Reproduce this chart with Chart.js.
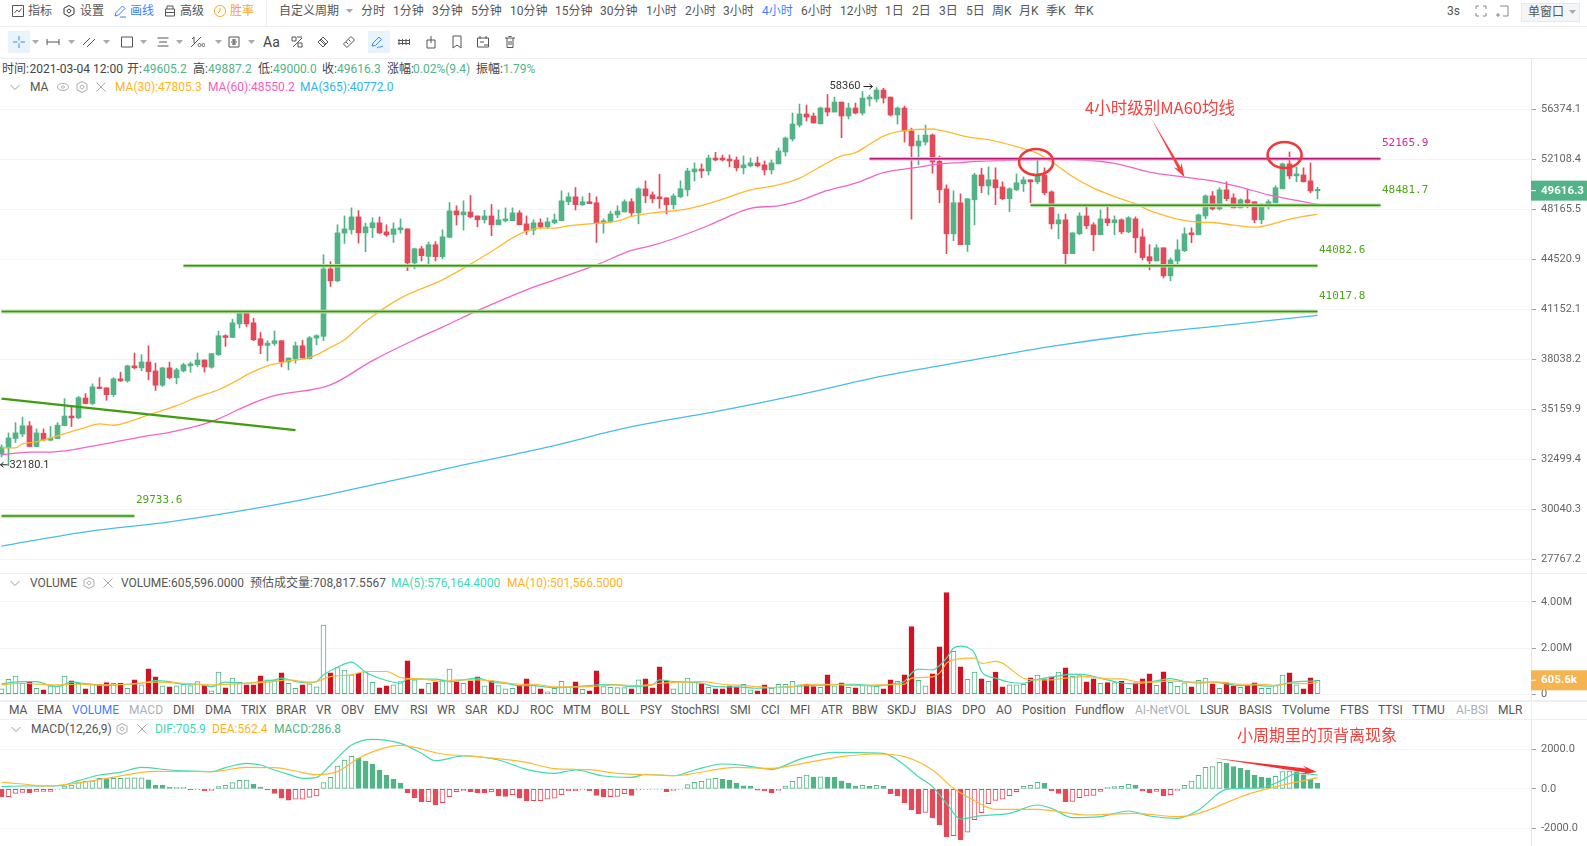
<!DOCTYPE html>
<html>
<head>
<meta charset="utf-8">
<title>BTC 4小时</title>
<script src="https://cdn.jsdelivr.net/npm/chart.js@4/dist/chart.umd.min.js"></script>
<style>
html, body { margin: 0; padding: 0; background: #fff; overflow: hidden; }
#page { position: relative; width: 1587px; height: 846px; overflow: hidden; font: 12px Roboto, "Noto Sans CJK SC", sans-serif; color: #555; }
#page span { position: absolute; white-space: nowrap; line-height: 16px; }
#page svg { position: absolute; }
canvas { position: absolute; }
.rule { position: absolute; background: #eceef1; }
.up { color: #52B486; }
</style>
</head>
<body>
<div id="page"></div>
<canvas id="priceChart" width="1589" height="515" style="left:-2px;top:58px;width:1589px;height:515px"></canvas>
<canvas id="volumeChart" width="1589" height="127" style="left:-2px;top:573px;width:1589px;height:127px"></canvas>
<canvas id="macdChart" width="1589" height="126" style="left:-2px;top:720px;width:1589px;height:126px"></canvas>

<script>
// 4h candles, oldest first
const opens = [
  32790,33100,33590,33830,34270,33170,33870,33500,33590,34280,
  34800,34700,35800,35490,36420,36380,35990,36900,36780,37660,
  37540,37890,37360,36530,37540,36960,37360,37660,37720,38010,
  37580,38330,39490,39380,40230,40930,40300,39300,38890,39010,
  39180,37890,38070,38870,38090,39340,39450,43870,43050,46410,
  46650,47610,46430,46800,47170,46500,46310,46650,46720,44280,
  45280,44740,45570,44720,46100,48060,47760,47980,47680,47390,
  47680,47020,47320,47320,47910,47090,46630,47170,46870,47170,
  47320,48760,49140,48530,48760,48680,47150,47240,47760,47980,
  48760,47910,49760,49290,49140,49060,48530,49140,49680,51100,
  51340,51180,52230,52230,52150,52070,51430,51590,51830,51670,
  51260,51750,52730,53820,55010,55980,55800,55120,56510,56150,
  57040,55800,56510,56060,57310,57310,58130,57490,55890,56510,
  54500,53230,53560,54160,51960,49760,46360,48680,45570,48910,
  50860,49990,50470,49910,48990,49680,50150,50470,50310,50860,
  49520,47090,47390,44930,46360,47680,47020,46290,47460,47170,
  47390,46500,47460,46140,44720,44420,45350,43390,44420,45140,
  46430,46290,47680,49210,48210,49680,49060,48290,48910,48760,
  47390,48450,48680,49760,51750,50780,50860,50390,49605.2];
const highs = [
  33260,33890,34440,34740,34500,34100,34100,34230,34440,35770,
  35330,35890,36050,36610,36970,36380,36970,37290,37700,38430,
  38330,38870,37820,37580,37880,37520,37820,37880,38430,38010,
  38390,39780,39550,40530,40970,41000,40590,39690,39180,39780,
  39180,38130,39100,39200,39440,39550,44860,44370,47020,47680,
  48290,48080,47150,47540,47610,47020,47170,47460,46720,45330,
  45450,45760,45790,46650,48700,48450,48830,49240,47680,48110,
  48550,48130,48290,48290,48080,47680,47390,47460,47540,47830,
  49600,49450,49860,49140,49420,49140,47460,48050,48450,48910,
  48990,49840,50390,49520,50920,49060,49370,50390,51400,51830,
  51750,52480,52700,52480,52480,52320,52400,52230,52320,51990,
  52070,53060,53990,56060,56860,56770,56060,56600,57730,57490,
  57040,56950,56950,57980,57670,58360,58290,57490,56600,56680,
  54750,54160,55010,54240,52400,50070,49600,49370,48990,50990,
  51400,51510,51430,50310,49840,50940,50700,50470,52150,51430,
  49600,47830,47830,46430,47930,48530,47170,48130,48450,47680,
  47460,47630,47610,46720,45570,45570,45350,44630,45930,46800,
  46800,47830,49290,49550,49840,50310,49370,48990,49680,48760,
  48610,48910,49990,51830,52730,51510,51430,51830,49887.2];
const lows = [
  32630,32180,33380,33690,33160,33160,33470,33470,33590,34280,
  34230,34650,35470,35430,36330,35670,35890,36740,36700,37480,
  37380,36840,36230,36450,36900,36610,37300,37280,37620,37290,
  37520,38270,38830,39380,39970,40060,39180,38390,37950,38890,
  37600,37420,37820,38130,38070,38930,39180,42670,42990,45660,
  46340,45690,45070,46090,46360,46170,45730,46410,43750,43870,
  44420,44030,44420,44570,46060,47000,46630,47540,46870,47150,
  46220,47020,47240,47320,47020,46310,46290,46800,46800,47090,
  47320,48530,48130,48450,48610,45730,46410,47170,47540,47980,
  47680,47090,48680,48680,48260,47830,48210,49060,49210,50390,
  50650,50860,51990,51990,51510,51180,50940,51510,51510,50860,
  50940,51750,52400,53650,54840,55360,55190,55100,55800,56150,
  53930,55540,55980,55890,56680,57060,56950,55800,55100,53560,
  47440,51670,53310,51000,48680,44930,45860,45570,45090,47020,
  49450,49290,48530,48910,48000,49630,49550,48680,50150,49290,
  46720,46000,44150,44930,46290,46720,45140,46290,46950,46290,
  46360,46430,45000,44490,43800,44420,43250,43050,44150,45070,
  45710,46290,47460,48130,48130,48830,48290,48290,48290,47170,
  47090,48210,48680,49760,50550,50310,50310,49450,49000];
const closes = [
  33140,33620,33890,34270,33170,33890,33520,33620,34300,34800,
  34700,35820,35490,36440,36340,35990,36900,36780,37660,37540,
  37890,37320,36530,37540,36960,37420,37720,37780,38010,37600,
  38390,39490,39380,40300,40930,40230,39240,38890,39030,39180,
  37890,38130,38870,38130,39360,39490,43870,43050,46430,46720,
  47610,46430,46870,47170,46430,46270,46720,46800,44280,45280,
  44790,45570,44720,46140,48060,47760,47980,47610,47390,47680,
  47020,47390,47460,47910,47020,46580,47170,46870,47240,47390,
  48830,49140,48530,48760,48610,47170,47320,47830,48050,48760,
  47910,49760,49210,48990,48990,48530,49210,49760,51180,51340,
  51180,52230,52070,52070,51990,51430,51670,51830,51590,51260,
  51830,52820,53900,55100,55980,55710,55190,56510,56150,57040,
  55800,56510,56060,57400,57490,58130,57400,55890,56510,54500,
  53230,53650,54160,51910,49680,46360,48680,45570,48990,50860,
  49990,50470,49840,48990,49760,50230,50470,50310,50800,49450,
  47090,47390,44930,46430,47680,46950,46290,47460,47170,47390,
  46500,47540,46070,44650,44420,45350,43390,44490,45210,46360,
  46290,47760,49210,48210,49680,48990,48290,48910,48680,47390,
  48530,48760,49840,51750,50780,50940,50310,49600,49616.3];

// moving averages as [candle index, value]
const ma30 = [[0,33100],[2,33100],[3,33310],[5,33410],[8,33730],[10,33960],[12,34180],[14,34370],[16,34300],[19,34590],[21,34860],[25,35370],[28,35860],[31,36270],[34,36880],[35,37130],[38,37660],[41,37950],[44,38150],[46,38530],[47,38770],[49,39240],[52,40380],[57,41900],[63,43120],[67,44200],[70,45090],[74,46340],[77,46770],[79,46770],[81,46950],[84,47090],[88,47320],[90,47640],[93,47910],[94,47960],[98,48210],[102,48780],[107,49680],[111,50070],[114,50600],[117,51530],[120,52400],[122,52670],[124,53370],[126,54070],[129,54530],[133,54670],[134,54580],[136,54300],[138,53990],[141,53760],[145,53170],[148,52620],[150,51930],[153,50730],[156,49810],[159,49160],[162,48600],[164,48080],[166,47740],[168,47440],[171,47220],[173,47190],[176,47000],[179,46850],[182,47140],[184,47440],[186,47640],[188,47805.3]];
const ma60 = [[0,32740],[4,32880],[7,32880],[14,33260],[21,33740],[24,33920],[30,34500],[36,35530],[39,35930],[47,36550],[53,37970],[59,39240],[63,40030],[68,41080],[75,42450],[79,43120],[85,44150],[90,45160],[93,45520],[96,46000],[101,46970],[105,47890],[107,48260],[111,48450],[114,48830],[118,49630],[122,50210],[126,51040],[130,51400],[134,51750],[137,51860],[141,51990],[145,52070],[151,52130],[159,51800],[164,51080],[169,50690],[173,50390],[177,49890],[181,49290],[185,48860],[188,48550.2]];
const ma365 = [[0,28360],[12,29004],[24,29465],[32,29857],[44,30570],[54,31300],[66,32220],[78,33140],[90,34220],[102,35040],[114,35990],[126,37070],[138,37950],[150,38830],[162,39550],[174,40110],[188,40772]];

// drawn price levels and the trend line
const levelValues = [52165.9, 48481.7, 44082.6, 41017.8, 29733.6];
const levelFrom = [124, 147, 26, 0, 0];
const levelTo = [197, 197, 188, 188, 19];
const trendLine = [[0,35770],[42,34040]];

const priceTicks = [56374.1, 52108.4, 48165.5, 44520.9, 41152.1, 38038.2, 35159.9, 32499.4, 30040.3, 27767.2];

// volume in thousands
const volumes = [
  232,652,783,478,522,261,188,362,362,783,
  580,478,232,435,435,507,478,478,261,623,
  406,1102,754,362,319,362,435,377,551,377,
  145,957,275,696,522,406,406,797,623,594,
  928,478,261,406,449,319,3001,928,1160,1044,
  841,913,986,522,275,362,406,551,1450,623,
  232,478,522,623,1087,536,478,580,754,362,
  580,377,232,261,377,667,406,232,101,261,
  565,333,536,217,145,1015,333,304,290,290,
  232,623,667,275,1189,580,232,551,696,522,
  449,304,232,232,362,304,435,188,145,406,
  261,435,435,565,406,435,333,304,841,362,
  493,304,275,377,377,348,232,623,565,841,
  2929,609,362,884,2059,4408,1856,1189,652,957,
  667,565,957,319,406,406,435,710,826,667,
  754,957,1145,783,812,536,667,478,507,507,
  565,261,493,667,884,391,971,522,348,493,
  319,609,696,449,261,493,362,304,377,493,
  261,261,377,826,928,406,232,710,605.6];
const volMa5 = [[0,450],[3,551],[5,551],[7,377],[8,333],[10,522],[12,464],[15,377],[18,435],[20,478],[22,594],[24,551],[26,435],[28,435],[30,333],[32,522],[35,478],[37,551],[39,623],[40,696],[42,551],[44,493],[45,551],[46,841],[48,1174],[50,1392],[52,957],[54,696],[56,522],[57,478],[58,652],[62,652],[64,551],[66,623],[68,696],[70,522],[72,478],[74,377],[76,377],[78,304],[80,290],[82,333],[84,377],[86,435],[88,406],[90,333],[93,406],[94,623],[96,551],[98,522],[100,478],[102,333],[105,319],[108,261],[110,290],[113,333],[115,377],[118,406],[120,435],[122,435],[125,362],[127,435],[128,478],[129,551],[130,913],[131,1087],[133,1058],[134,1247],[135,1566],[136,2001],[137,2088],[138,2030],[139,1783],[140,986],[141,768],[142,696],[144,522],[146,478],[147,580],[149,696],[151,797],[153,870],[155,841],[157,696],[159,551],[161,464],[163,478],[165,580],[167,681],[169,551],[171,493],[173,522],[175,449],[177,377],[179,406],[181,348],[183,435],[185,551],[188,576.2]];
const volMa10 = [[0,406],[3,478],[7,406],[11,435],[14,406],[18,435],[22,522],[26,478],[30,406],[34,464],[38,522],[41,623],[44,522],[45,551],[47,768],[50,841],[52,986],[55,986],[57,725],[60,667],[63,551],[65,623],[68,623],[71,551],[74,435],[76,435],[79,319],[84,333],[88,406],[91,377],[94,478],[97,522],[100,551],[103,435],[106,377],[110,290],[113,333],[115,435],[118,435],[122,377],[125,406],[129,435],[130,696],[133,754],[134,913],[135,1348],[136,1493],[138,1566],[139,1566],[140,1334],[142,1421],[143,1348],[144,1131],[146,696],[148,623],[150,623],[152,696],[155,768],[158,667],[160,667],[162,551],[164,522],[167,580],[169,536],[171,522],[174,522],[177,435],[180,435],[182,377],[184,478],[186,464],[188,501.6]];
const volumeTicks = [4000, 2000, 0];

const macdBars = [
  -400,-400,-230,-180,-200,-130,-130,-130,-30,140,
  190,310,380,410,530,500,530,530,550,550,
  550,450,190,175,75,75,75,-45,-40,-95,
  -80,110,175,310,430,445,240,90,-60,-230,
  -470,-570,-530,-530,-430,-365,310,580,1155,1460,
  1640,1540,1410,1255,950,700,495,290,-195,-450,
  -650,-650,-820,-700,-400,-145,-110,-145,-195,-210,
  -160,-365,-380,-300,-470,-600,-600,-600,-530,-480,
  -300,-95,-95,-60,-95,-330,-400,-400,-390,-245,
  -330,-60,-30,-30,-30,-145,-80,-30,210,330,
  380,500,530,480,430,290,150,125,-70,-110,
  -195,-80,140,380,580,700,600,610,600,580,
  395,290,125,175,125,175,125,-245,-365,-720,
  -1060,-1260,-1190,-1480,-1815,-2425,-2370,-2590,-2200,-1560,
  -1210,-750,-585,-530,-345,-145,125,175,330,280,
  -95,-230,-650,-635,-450,-365,-330,-130,75,110,
  125,225,190,-110,-195,-130,-345,-300,-80,175,
  395,680,1085,1120,1340,1290,1120,1035,950,700,
  580,550,630,870,900,870,700,480,286.8];
const dif = [[0,108],[3,142],[8,142],[11,412],[14,699],[17,834],[20,1087],[24,952],[27,901],[30,868],[32,1070],[35,1290],[37,1205],[39,952],[41,733],[43,530],[45,581],[47,1205],[50,2218],[53,2505],[57,2302],[60,1796],[62,1425],[66,1661],[71,1458],[75,986],[79,783],[82,952],[86,648],[90,581],[92,733],[94,699],[96,665],[99,952],[103,1256],[106,1188],[110,986],[114,1492],[119,1847],[126,1796],[128,1458],[131,614],[133,108],[135,-736],[137,-1529],[140,-1360],[144,-1242],[148,-820],[150,-989],[153,-1462],[157,-1411],[161,-1124],[164,-1377],[168,-1496],[171,-1074],[175,-27],[180,57],[183,446],[185,783],[188,705.9]];
const dea = [[0,327],[3,243],[6,142],[10,243],[15,530],[22,884],[30,868],[35,1087],[39,1070],[42,901],[45,716],[48,868],[51,1543],[54,1999],[57,2200],[63,1762],[68,1627],[75,1340],[79,1020],[84,969],[88,783],[94,699],[96,665],[105,1087],[110,1036],[115,1323],[120,1627],[125,1762],[129,1627],[133,952],[136,24],[139,-601],[142,-1040],[148,-1040],[155,-1327],[162,-1242],[168,-1411],[171,-1242],[178,-280],[183,192],[188,562.4]];
const macdTicks = [2000, 0, -2000];

const GREEN = '#52B486', RED = '#E24A5A', VOL_RED = '#CF1322';
const slots = Array.from({ length: 219 }, (_, i) => i);   // empty room on the right of the last candle
const pts = list => list.map(p => ({ x: p[0], y: p[1] }));

function lineSet(list, color, width, order, smooth) {
    return {
        type: 'line', data: pts(list), borderColor: color, borderWidth: width, order: order,
        pointRadius: 0, spanGaps: true, cubicInterpolationMode: smooth ? 'monotone' : 'default'
    };
}

function baseOptions(yMin, yMax, yType, tickValues, fmt) {
    return {
        responsive: false, animation: false, events: [],
        layout: { padding: 0, autoPadding: false },
        plugins: { legend: { display: false }, tooltip: { enabled: false } },
        datasets: { bar: { grouped: false } },
        scales: {
            x: { type: 'category', display: false, offset: true, grid: { display: false } },
            y: {
                type: yType, position: 'right', min: yMin, max: yMax,
                // no label padding, the plot has to fill the whole canvas height
                afterFit: s => { s.width = 56; s.paddingTop = 0; s.paddingBottom = 0; },
                afterBuildTicks: s => { s.ticks = tickValues.map(v => ({ value: v })); },
                border: { color: '#E3E6EA' },
                grid: { color: '#F1F3F5', tickColor: '#9AA0A6', tickLength: 5 },
                ticks: { autoSkip: false, padding: 5, color: '#666', font: { family: 'Roboto', size: 11 }, callback: fmt }
            }
        }
    };
}

// texts, ellipses and hand drawn arrows that sit on top of a chart
function at(chart, i, v) {
    return [chart.scales.x.getPixelForValue(i), chart.scales.y.getPixelForValue(v)];
}
function taperArrow(ctx, tail, tip, neckW, headW, headL, color) {
    const dx = tip[0] - tail[0], dy = tip[1] - tail[1], len = Math.hypot(dx, dy);
    const ux = dx / len, uy = dy / len, nx = -uy, ny = ux;
    const bx = tip[0] - ux * headL, by = tip[1] - uy * headL;
    const nk = headL * 0.75;
    const cx = tip[0] - ux * nk, cy = tip[1] - uy * nk;
    ctx.fillStyle = color;
    ctx.beginPath();
    ctx.moveTo(tail[0], tail[1]);
    ctx.lineTo(cx + nx * neckW, cy + ny * neckW);
    ctx.lineTo(bx + nx * headW, by + ny * headW);
    ctx.lineTo(tip[0], tip[1]);
    ctx.lineTo(bx - nx * headW, by - ny * headW);
    ctx.lineTo(cx - nx * neckW, cy - ny * neckW);
    ctx.closePath();
    ctx.fill();
}
function label(ctx, text, x, y, color, font, align) {
    ctx.fillStyle = color;
    ctx.font = font;
    ctx.textAlign = align || 'left';
    ctx.textBaseline = 'middle';
    ctx.fillText(text, x, y);
}
// small arrow next to the highest and lowest price
function pointer(ctx, x0, x1, y) {
    const d = x1 > x0 ? -3 : 3;
    ctx.strokeStyle = '#222';
    ctx.lineWidth = 1;
    ctx.beginPath();
    ctx.moveTo(x0, y);
    ctx.lineTo(x1, y);
    ctx.moveTo(x1 + d, y - 2.5);
    ctx.lineTo(x1, y);
    ctx.lineTo(x1 + d, y + 2.5);
    ctx.stroke();
}
function priceTag(chart, v, text, color) {
    const ctx = chart.ctx, y = chart.scales.y.getPixelForValue(v), x = chart.chartArea.right;
    ctx.save();
    ctx.fillStyle = color;
    ctx.fillRect(x, y - 10, 58, 20);
    ctx.fillStyle = '#fff';
    ctx.fillRect(x, y - 0.5, 5, 1);
    label(ctx, text, x + 10, y, '#fff', 'bold 11.5px Roboto');
    ctx.restore();
}

const priceMarks = {
    id: 'priceMarks',
    afterDatasetsDraw(chart) {
        const ctx = chart.ctx;
        const mono = '11px "DejaVu Sans Mono"';
        ctx.save();
        levelValues.forEach((v, k) => {
            const p = at(chart, levelTo[k], v);
            label(ctx, v.toFixed(1), p[0] + 1.5, p[1] - 15.5, k === 0 ? '#D12C95' : '#4CA516', mono);
        });
        let p = at(chart, 125, 58360);
        label(ctx, '58360', p[0] - 16, p[1] - 1, '#333', '11px Roboto', 'right');
        pointer(ctx, p[0] - 13, p[0] - 4, p[1] - 1);
        p = at(chart, 1, 32180.1);
        label(ctx, '32180.1', p[0] + 1, p[1] - 1, '#333', '11px Roboto');
        pointer(ctx, p[0] - 1, p[0] - 8, p[1] - 1);

        p = at(chart, 165.5, 56510);
        label(ctx, '4小时级别MA60均线', p[0], p[1], '#F5423F', '16.5px "Noto Sans CJK SC"', 'center');
        taperArrow(ctx, at(chart, 164.2, 55640), at(chart, 169, 50680), 1.6, 4.5, 14, '#F5423F');

        ctx.strokeStyle = '#EF3A3A';
        ctx.lineWidth = 2.6;
        [[147.8, 51910], [183.3, 52480]].forEach(c => {
            const q = at(chart, c[0], c[1]);
            ctx.beginPath();
            ctx.ellipse(q[0], q[1], 17, 13, 0, 0, Math.PI * 2);
            ctx.stroke();
        });
        ctx.restore();
        priceTag(chart, 49616.3, '49616.3', GREEN);
    }
};
const volumeMarks = {
    id: 'volumeMarks',
    afterDatasetsDraw(chart) { priceTag(chart, 605.6, '605.6k', '#F5B450'); }
};
const macdMarks = {
    id: 'macdMarks',
    afterDatasetsDraw(chart) {
        const ctx = chart.ctx;
        ctx.save();
        const p = at(chart, 176.5, 2724);
        label(ctx, '小周期里的顶背离现象', p[0], p[1], '#F5423F', '16px "Noto Sans CJK SC"');
        taperArrow(ctx, at(chart, 173.2, 1560), at(chart, 187.9, 850), 2, 4.5, 15, '#F5302F');
        ctx.restore();
    }
};

// price panel
const candleColor = closes.map((c, i) => c >= opens[i] ? GREEN : RED);
const levelSets = [];
levelValues.forEach((v, k) => {
    const seg = [[levelFrom[k], v], [levelTo[k], v]];
    levelSets.push(lineSet(seg, k === 0 ? '#EBB0D6' : '#B5DCA0', 3.6, 2));
    levelSets.push(lineSet(seg, k === 0 ? '#BE1A7E' : '#3B930E', 1.5, 1));
});
new Chart(document.getElementById('priceChart'), {
    type: 'bar',
    data: {
        labels: slots,
        datasets: [
            { data: lows.map((l, i) => [l, highs[i]]), backgroundColor: candleColor, barThickness: 1, order: 6 },
            { data: opens.map((o, i) => [o, closes[i]]), backgroundColor: candleColor, barThickness: 5, minBarLength: 1.5, order: 5 },
            lineSet(ma365, '#49BCEB', 1.3, 3, true),
            lineSet(ma60, '#F264C8', 1.3, 3, true),
            lineSet(ma30, '#FFB92E', 1.3, 3, true),
            ...levelSets,
            lineSet(trendLine, '#3F9E0D', 2.2, 1)
        ]
    },
    options: baseOptions(27183, 61135, 'logarithmic', priceTicks, v => v.toFixed(1)),
    plugins: [priceMarks]
});

// volume panel: up bars are hollow, down bars filled
new Chart(document.getElementById('volumeChart'), {
    type: 'bar',
    data: {
        labels: slots,
        datasets: [
            {
                data: volumes, barThickness: 5, borderWidth: 1, borderSkipped: false, order: 5,
                backgroundColor: candleColor.map(c => c === GREEN ? '#fff' : VOL_RED),
                borderColor: candleColor.map(c => c === GREEN ? GREEN : VOL_RED)
            },
            lineSet(volMa5, '#41D9B0', 1.2, 2, true),
            lineSet(volMa10, '#FFB92E', 1.2, 1, true)
        ]
    },
    options: baseOptions(-248, 5252, 'linear', volumeTicks, v => v === 0 ? '0' : (v / 1000).toFixed(2) + 'M'),
    plugins: [volumeMarks]
});

// macd panel: a bar that rises against the one before it is hollow
const macdColor = macdBars.map(v => v >= 0 ? GREEN : RED);
const macdFill = macdBars.map((v, i) => (i > 0 && v >= macdBars[i - 1]) ? '#fff' : macdColor[i]);
new Chart(document.getElementById('macdChart'), {
    type: 'bar',
    data: {
        labels: slots,
        datasets: [
            { data: macdBars, barThickness: 5, borderWidth: 1, borderSkipped: false, order: 5, backgroundColor: macdFill, borderColor: macdColor },
            lineSet(dif, '#41D9B0', 1.2, 2, true),
            lineSet(dea, '#FFB92E', 1.2, 1, true)
        ]
    },
    options: baseOptions(-2896, 3484, 'linear', macdTicks, v => v.toFixed(1)),
    plugins: [macdMarks]
});

// everything around the charts: toolbars, headers, indicator tabs
const page = document.getElementById('page');
function put(text, x, y, color) {
    const s = document.createElement('span');
    s.textContent = text;
    s.style.left = x + 'px';
    s.style.top = (y - 8) + 'px';
    if (color) s.style.color = color;
    page.appendChild(s);
}
function rule(x, y, w, h) {
    const d = document.createElement('div');
    d.className = 'rule';
    d.style.cssText = `left:${x}px;top:${y}px;width:${w}px;height:${h}px`;
    page.appendChild(d);
}
function icon(x, y, path, color) {
    page.insertAdjacentHTML('beforeend',
        `<svg style="left:${x - 8}px;top:${y - 8}px" width="16" height="16" viewBox="0 0 16 16" fill="none" stroke="${color || '#555'}" stroke-width="1"><path d="${path}"/></svg>`);
}
function caret(x, y) {
    page.insertAdjacentHTML('beforeend',
        `<svg style="left:${x - 3}px;top:${y - 2}px" width="7" height="4"><path d="M0 0H7L3.5 4Z" fill="#aaa"/></svg>`);
}
function highlight(x, w) {
    const d = document.createElement('div');
    d.style.cssText = `position:absolute;left:${x}px;top:31px;width:${w}px;height:22px;background:#E8F3FC`;
    page.appendChild(d);
}

rule(0, 26, 1587, 1);
rule(0, 58, 1587, 1);
rule(266, 0, 1, 26);
rule(0, 573, 1587, 1);
rule(0, 700, 1587, 1.5);
rule(0, 718.5, 1587, 1.5);
rule(1531, 58, 1, 788);

const HEX = 'M8 2.5L13 5.2V10.8L8 13.5L3 10.8V5.2ZM8 6.2A1.8 1.8 0 1 1 7.99 6.2';
const CLOSE = 'M3.5 3.5L12.5 12.5M12.5 3.5L3.5 12.5';
const CHEV = 'M3.5 6L8 10.5L12.5 6';

const menuItems = [['指标', 28], ['设置', 80], ['画线', 130, '#3D7FFF'], ['高级', 180], ['胜率', 230, '#F5A623'], ['自定义周期', 279]];
menuItems.forEach(m => put(m[0], m[1], 11, m[2]));
icon(18, 11, 'M2.5 2.5H13.5V13.5H2.5ZM4.5 10L7 7L9 9L11.5 5.5');
icon(69, 11, HEX, '#333');
icon(120, 11, 'M3 13L4 9.5L10.5 3L13 5.5L6.5 12ZM8 14H14', '#3D7FFF');
icon(170, 11, 'M3.5 6H12.5V13H3.5ZM5 6V3H11V6M3.5 9.5H12.5');
icon(220, 11, 'M8 2.5A5.5 5.5 0 1 1 7.99 2.5M8 5V8L6 10', '#F5A623');
caret(349, 11);

const periods = ['分时', '1分钟', '3分钟', '5分钟', '10分钟', '15分钟', '30分钟', '1小时', '2小时', '3小时', '4小时', '6小时', '12小时', '1日', '2日', '3日', '5日', '周K', '月K', '季K', '年K'];
const periodX = [361, 393, 432, 471, 510, 555, 600, 646, 685, 723, 762, 801, 840, 885, 912, 939, 966, 992, 1019, 1046, 1074];
periods.forEach((p, i) => put(p, periodX[i], 11, p === '4小时' ? '#3D7FFF' : '#555'));
put('3s', 1447, 11);
icon(1481, 11, 'M3 6V3H6M10 3H13V6M13 10V13H10M6 13H3V10', '#888');
icon(1503, 11, 'M5 3H13V13H8M3 10V14M1 12H5', '#888');
page.insertAdjacentHTML('beforeend', '<div style="position:absolute;left:1521px;top:3px;width:59px;height:19px;background:#F4F5F7;border:1px solid #E6E8EB;box-sizing:border-box"></div>');
put('单窗口', 1528, 12);
caret(1572, 12);

highlight(8, 22);
highlight(368, 22);
icon(19, 42, 'M8 2V6.5M8 9.5V14M2 8H6.5M9.5 8H14', '#3D8BE8');
icon(53, 42, 'M2 5V11M14 5V11M2 8H14');
icon(89, 42, 'M2 11L9 4M6 13L14 5');
icon(127, 42, 'M2.5 3H13.5V13H2.5Z');
icon(163, 42, 'M2.5 4H13.5M4 8H12M2.5 12H13.5');
icon(197, 42, 'M3 5L5 3V9M2 13L12 3M9 11A1.5 1.5 0 1 1 9 11.1M13 11A1.5 1.5 0 1 1 13 11.1');
icon(234, 42, 'M3 3H13V13H3ZM8 5V11M5 8H11M6 6H10M6 10H10');
[35, 71, 106, 143, 179, 218, 251].forEach(x => caret(x, 42));
put('Aa', 263, 42, '#444');
page.lastChild.style.fontSize = '14px';
icon(297, 42, 'M3 3H7V7H3ZM9 9H13V13H9ZM4 13L13 4M8 3H13');
icon(323, 42, 'M3 8L8 3L13 8L8 13ZM5 6L10 11M6 5L11 10');
icon(349, 42, 'M2.5 10L10 2.5L13.5 6L6 13.5ZM5 8L7 10M7.5 5.5L9.5 7.5');
icon(377, 42, 'M3 12L4 9L10 3L12.5 5.5L6.5 11.5ZM8 14C10 12 11 14 14 12', '#3D8BE8');
icon(404, 42, 'M3 5V11M6.5 5V11M10 5V11M13.5 5V11M2 6.5H14M2 9.5H14');
icon(431, 42, 'M4 6H12V14H4ZM8 2V9');
icon(457, 42, 'M4 2H12V14L8 11L4 14Z');
icon(483, 42, 'M2.5 4H13.5V13H2.5ZM5 2V5M11 2V5M5 8H9M9 11H13');
icon(510, 42, 'M3 4H13M5 4V13.5H11V4M6.5 2.5H9.5M7 7V11M9 7V11');

// candle info line
const infoParts = [['时间:', 2], ['2021-03-04 12:00', 29.5, '#444'], ['开:', 127, '#444'], ['49605.2', 143, GREEN], ['高:', 193, '#444'], ['49887.2', 208, GREEN], ['低:', 258, '#444'], ['49000.0', 273, GREEN], ['收:', 322, '#444'], ['49616.3', 337, GREEN], ['涨幅:', 387, '#444'], ['0.02%(9.4)', 413, GREEN], ['振幅:', 476, '#444'], ['1.79%', 503, GREEN]];
infoParts.forEach(p => put(p[0], p[1], 69, p[2] || '#444'));

icon(15, 87, CHEV, '#999');
put('MA', 30, 87, '#555');
icon(63, 87, 'M8 4.5A5.5 3.5 0 1 1 7.99 4.5M8 6.7A1.3 1.3 0 1 1 7.99 6.7', '#aaa');
icon(82, 87, HEX, '#aaa');
icon(101, 87, CLOSE, '#aaa');
put('MA(30):47805.3', 115, 87, '#FFB319');
put('MA(60):48550.2', 208, 87, '#F35CC0');
put('MA(365):40772.0', 300, 87, '#2FB4F0');

icon(15, 583, CHEV, '#999');
put('VOLUME', 30, 583, '#555');
icon(89, 583, HEX, '#aaa');
icon(108, 583, CLOSE, '#aaa');
put('VOLUME:605,596.0000', 121, 583, '#555');
put('预估成交量:708,817.5567', 250, 583, '#555');
put('MA(5):576,164.4000', 391, 583, '#41D9B0');
put('MA(10):501,566.5000', 507, 583, '#FFB319');

// indicator tabs
const tabs = ['MA', 'EMA', 'VOLUME', 'MACD', 'DMI', 'DMA', 'TRIX', 'BRAR', 'VR', 'OBV', 'EMV', 'RSI', 'WR', 'SAR', 'KDJ', 'ROC', 'MTM', 'BOLL', 'PSY', 'StochRSI', 'SMI', 'CCI', 'MFI', 'ATR', 'BBW', 'SKDJ', 'BIAS', 'DPO', 'AO', 'Position', 'Fundflow', 'AI-NetVOL', 'LSUR', 'BASIS', 'TVolume', 'FTBS', 'TTSI', 'TTMU', 'AI-BSI', 'MLR'];
const tabX = [9, 37, 72, 129, 173, 205, 241, 276, 316, 341, 374, 410, 437, 465, 497, 530, 563, 601, 640, 671, 730, 761, 790, 821, 852, 887, 926, 962, 996, 1022, 1075, 1135, 1200, 1239, 1282, 1340, 1378, 1412, 1456, 1498];
const tabMuted = ['MACD', 'AI-NetVOL', 'AI-BSI'];
tabs.forEach((t, i) => put(t, tabX[i], 709.5, t === 'VOLUME' ? '#3D7FFF' : tabMuted.includes(t) ? '#AAB0B7' : '#555'));

icon(16, 729, CHEV, '#999');
put('MACD(12,26,9)', 31, 729, '#555');
icon(122, 729, HEX, '#aaa');
icon(142, 729, CLOSE, '#aaa');
put('DIF:705.9', 155, 729, '#41D9B0');
put('DEA:562.4', 212, 729, '#FFB319');
put('MACD:286.8', 274, 729, GREEN);
</script>
</body>
</html>
